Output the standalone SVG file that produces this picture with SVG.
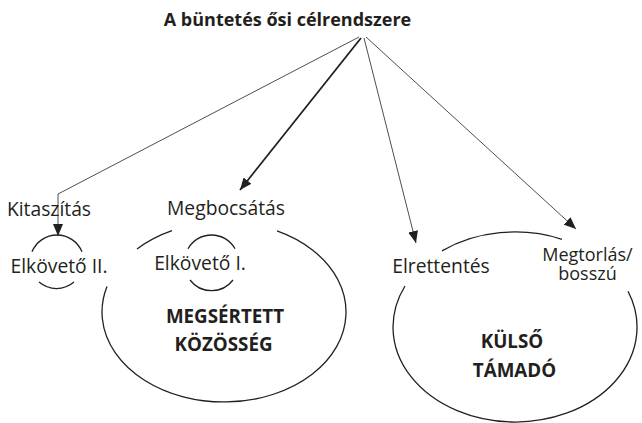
<svg xmlns="http://www.w3.org/2000/svg" width="642" height="423" viewBox="0 0 642 423">
<style>
.t{font-family:"Open Sans","Noto Sans","Liberation Sans",sans-serif;font-size:19.3px;fill:#231f20;text-anchor:middle}
.s{font-size:18px}
.b{font-weight:bold;font-size:18.8px}
.h{font-weight:bold;font-size:18px}
.ln{fill:none;stroke:#231f20;stroke-width:0.8}
.thick{stroke-width:1.8}
.ring{fill:none;stroke:#231f20;stroke-width:1.3}
</style>
<defs>
<marker id="ah" viewBox="0 0 12 10" refX="12" refY="5" markerWidth="12" markerHeight="10" markerUnits="userSpaceOnUse" orient="auto"><path d="M0,0 L12,5 L0,10 z" fill="#231f20"/></marker>
</defs>
<g id="title"><text class="t h" x="287.5" y="26">A büntetés ősi célrendszere</text></g>
<g id="connectors">
<path class="ln" d="M359,37 L58,194 L58,236" marker-end="url(#ah)"/>
<path class="ln thick" d="M361,38 L240,190" marker-end="url(#ah)"/>
<path class="ln" d="M364,38 L416,243" marker-end="url(#ah)"/>
<path class="ln" d="M366,37 L576,229" marker-end="url(#ah)"/>
</g>
<g id="kitaszitas"><text class="t" x="49" y="216">Kitaszítás</text></g>
<g id="elkoveto2">
<path class="ring" d="M32,251.8 A27,27 0 0 1 82,251.8 M39,282.1 A27,27 0 0 0 74,282.1"/>
<text class="t" x="59" y="273">Elkövető II.</text>
</g>
<g id="megbocsatas"><text class="t" x="226" y="215">Megbocsátás</text></g>
<g id="kozosseg">
<path class="ring" d="M172,230.6 A122,90 0 0 0 137,248.9 M107,286.5 A122,90 0 1 0 277,230.9"/>
<text class="t b" x="225" y="323">MEGSÉRTETT</text>
<text class="t b" x="223.5" y="351">KÖZÖSSÉG</text>
</g>
<g id="elkoveto1">
<path class="ring" d="M188,248.7 A27,27 0 0 1 235,248.7 M190,280 A27,27 0 0 0 233,280"/>
<text class="t" x="200" y="270">Elkövető I.</text>
</g>
<g id="elrettentes"><text class="t" x="441" y="273">Elrettentés</text></g>
<g id="megtorlas"><text class="t s" x="587.5" y="261">Megtorlás/</text><text class="t s" x="587.5" y="280">bosszú</text></g>
<g id="tamado">
<path class="ring" d="M442,250.9 A122,95 0 0 1 562,239.3 M628,291.2 A122,95 0 1 1 405,286"/>
<text class="t b" x="512" y="348">KÜLSŐ</text>
<text class="t b" x="514.5" y="377">TÁMADÓ</text>
</g>
</svg>
